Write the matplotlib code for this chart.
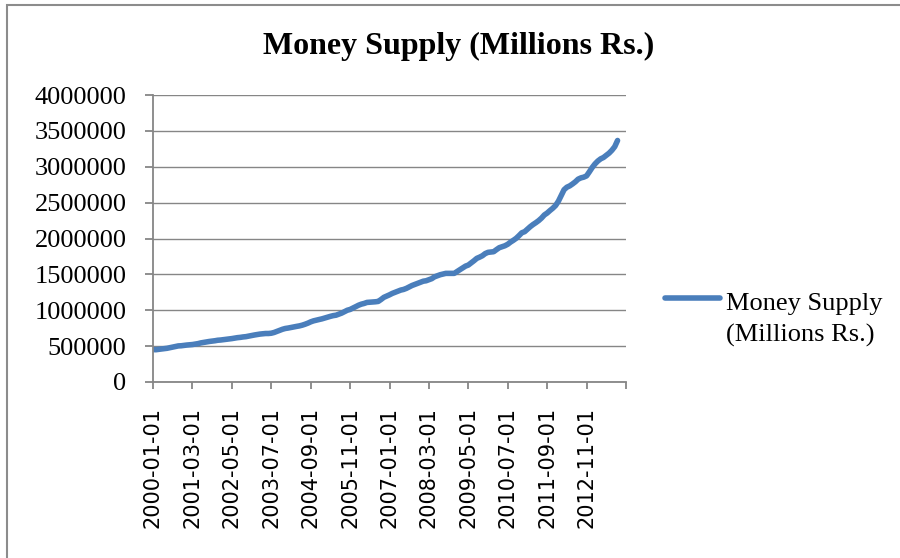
import math

import matplotlib

matplotlib.use("Agg")
import matplotlib.pyplot as plt
import numpy as np
import pandas as pd
from matplotlib.lines import Line2D
from matplotlib.patches import Rectangle

# monthly money supply, millions Rs., starting 2000-01
start_month = "2000-01-01"
money_supply = [
    452000, 450000, 455000, 460000, 466000, 470000, 478000, 485000, 495000, 503000, 505000, 510000,
    515000, 518000, 522000, 528000, 535000, 545000, 552000, 560000, 565000, 570000, 575000, 582000,
    585000, 590000, 596000, 600000, 605000, 612000, 618000, 622000, 628000, 632000, 640000, 648000,
    655000, 662000, 668000, 672000, 676000, 676000, 680000, 690000, 705000, 720000, 735000, 746000,
    752000, 760000, 768000, 775000, 782000, 792000, 805000, 820000, 838000, 852000, 862000, 871000,
    880000, 892000, 905000, 915000, 925000, 931000, 945000, 960000, 980000, 1000000, 1011000, 1030000,
    1050000, 1070000, 1085000, 1095000, 1109000, 1112000, 1115000, 1118000, 1123000, 1150000, 1180000, 1197000,
    1215000, 1235000, 1250000, 1265000, 1281000, 1290000, 1305000, 1325000, 1345000, 1360000, 1374000, 1390000,
    1405000, 1411000, 1425000, 1440000, 1466000, 1480000, 1495000, 1505000, 1514000, 1514000, 1515000, 1514000,
    1540000, 1565000, 1590000, 1615000, 1630000, 1660000, 1690000, 1723000, 1740000, 1760000, 1790000, 1807000,
    1812000, 1816000, 1845000, 1872000, 1885000, 1899000, 1920000, 1950000, 1975000, 2003000, 2040000, 2080000,
    2095000, 2130000, 2165000, 2195000, 2221000, 2250000, 2285000, 2328000, 2355000, 2390000, 2422000, 2460000,
    2520000, 2600000, 2680000, 2715000, 2733000, 2760000, 2790000, 2827000, 2845000, 2855000, 2873000, 2930000,
    2990000, 3040000, 3080000, 3110000, 3129000, 3160000, 3190000, 3230000, 3280000, 3366000,
]
series_label = "Money Supply\n(Millions Rs.)"
chart_title = "Money Supply (Millions Rs.)"
y_ticks = [0, 500000, 1000000, 1500000, 2000000, 2500000, 3000000, 3500000, 4000000]
label_step = 14  # months between date labels

blue = "#4a7ebb"
grey = "#868686"
serif = "Liberation Serif"

dates = pd.date_range(start_month, periods=len(money_supply), freq="MS")
x = np.arange(len(money_supply))
x_end = math.ceil(len(money_supply) / label_step) * label_step

fig = plt.figure(figsize=(9, 5.58), dpi=100)
ax = fig.add_axes([153 / 900, 1 - 382 / 558, (626 - 153) / 900, (382 - 95) / 558])

(line,) = ax.plot(x, money_supply, color=blue, lw=4, solid_capstyle="round",
                  solid_joinstyle="round", label=series_label)

ax.set_xlim(0, x_end)
ax.set_ylim(0, 4000000)
ax.set_yticks(y_ticks)
ax.set_yticklabels([str(v) for v in y_ticks], fontfamily=serif, fontsize=19)

tick_pos = list(range(0, len(money_supply), label_step))
tick_lab = [dates[i].strftime("%Y-%m-%d") for i in tick_pos]
ax.set_xticks(tick_pos + [x_end])
ax.set_xticklabels(tick_lab + [""], rotation=90, fontfamily="DejaVu Sans", fontsize=15)

ax.grid(axis="y", color=grey, lw=1.0)
ax.set_axisbelow(True)
for side in ("top", "right"):
    ax.spines[side].set_visible(False)
for side in ("left", "bottom"):
    ax.spines[side].set_color(grey)
    ax.spines[side].set_linewidth(1.3)
ax.tick_params(axis="y", direction="out", length=6, width=1.3, color=grey, pad=13)
ax.tick_params(axis="x", direction="out", length=5, width=1.3, color=grey, pad=13)

fig.text(458.5 / 900, 1 - 54 / 558, chart_title, ha="center", va="baseline",
         fontfamily=serif, fontweight="bold", fontsize=23)

# legend drawn to the right of the plot, Excel style
fig.add_artist(Line2D([665 / 900, 720 / 900], [1 - 298 / 558, 1 - 298 / 558],
                      color=blue, lw=4, solid_capstyle="round"))
fig.text(726 / 900, 1 - 320 / 558, line.get_label(), ha="left", va="center",
         fontfamily=serif, fontsize=19, linespacing=1.45)

# chart area border (only left and top edges are inside the picture)
fig.add_artist(Rectangle((7 / 900, -0.1), 1.2, 1 - 5 / 558 + 0.1, transform=fig.transFigure,
                         fill=False, edgecolor="#8c8c8c", lw=1.5, clip_on=False))

fig.savefig("out.png", dpi=100)
